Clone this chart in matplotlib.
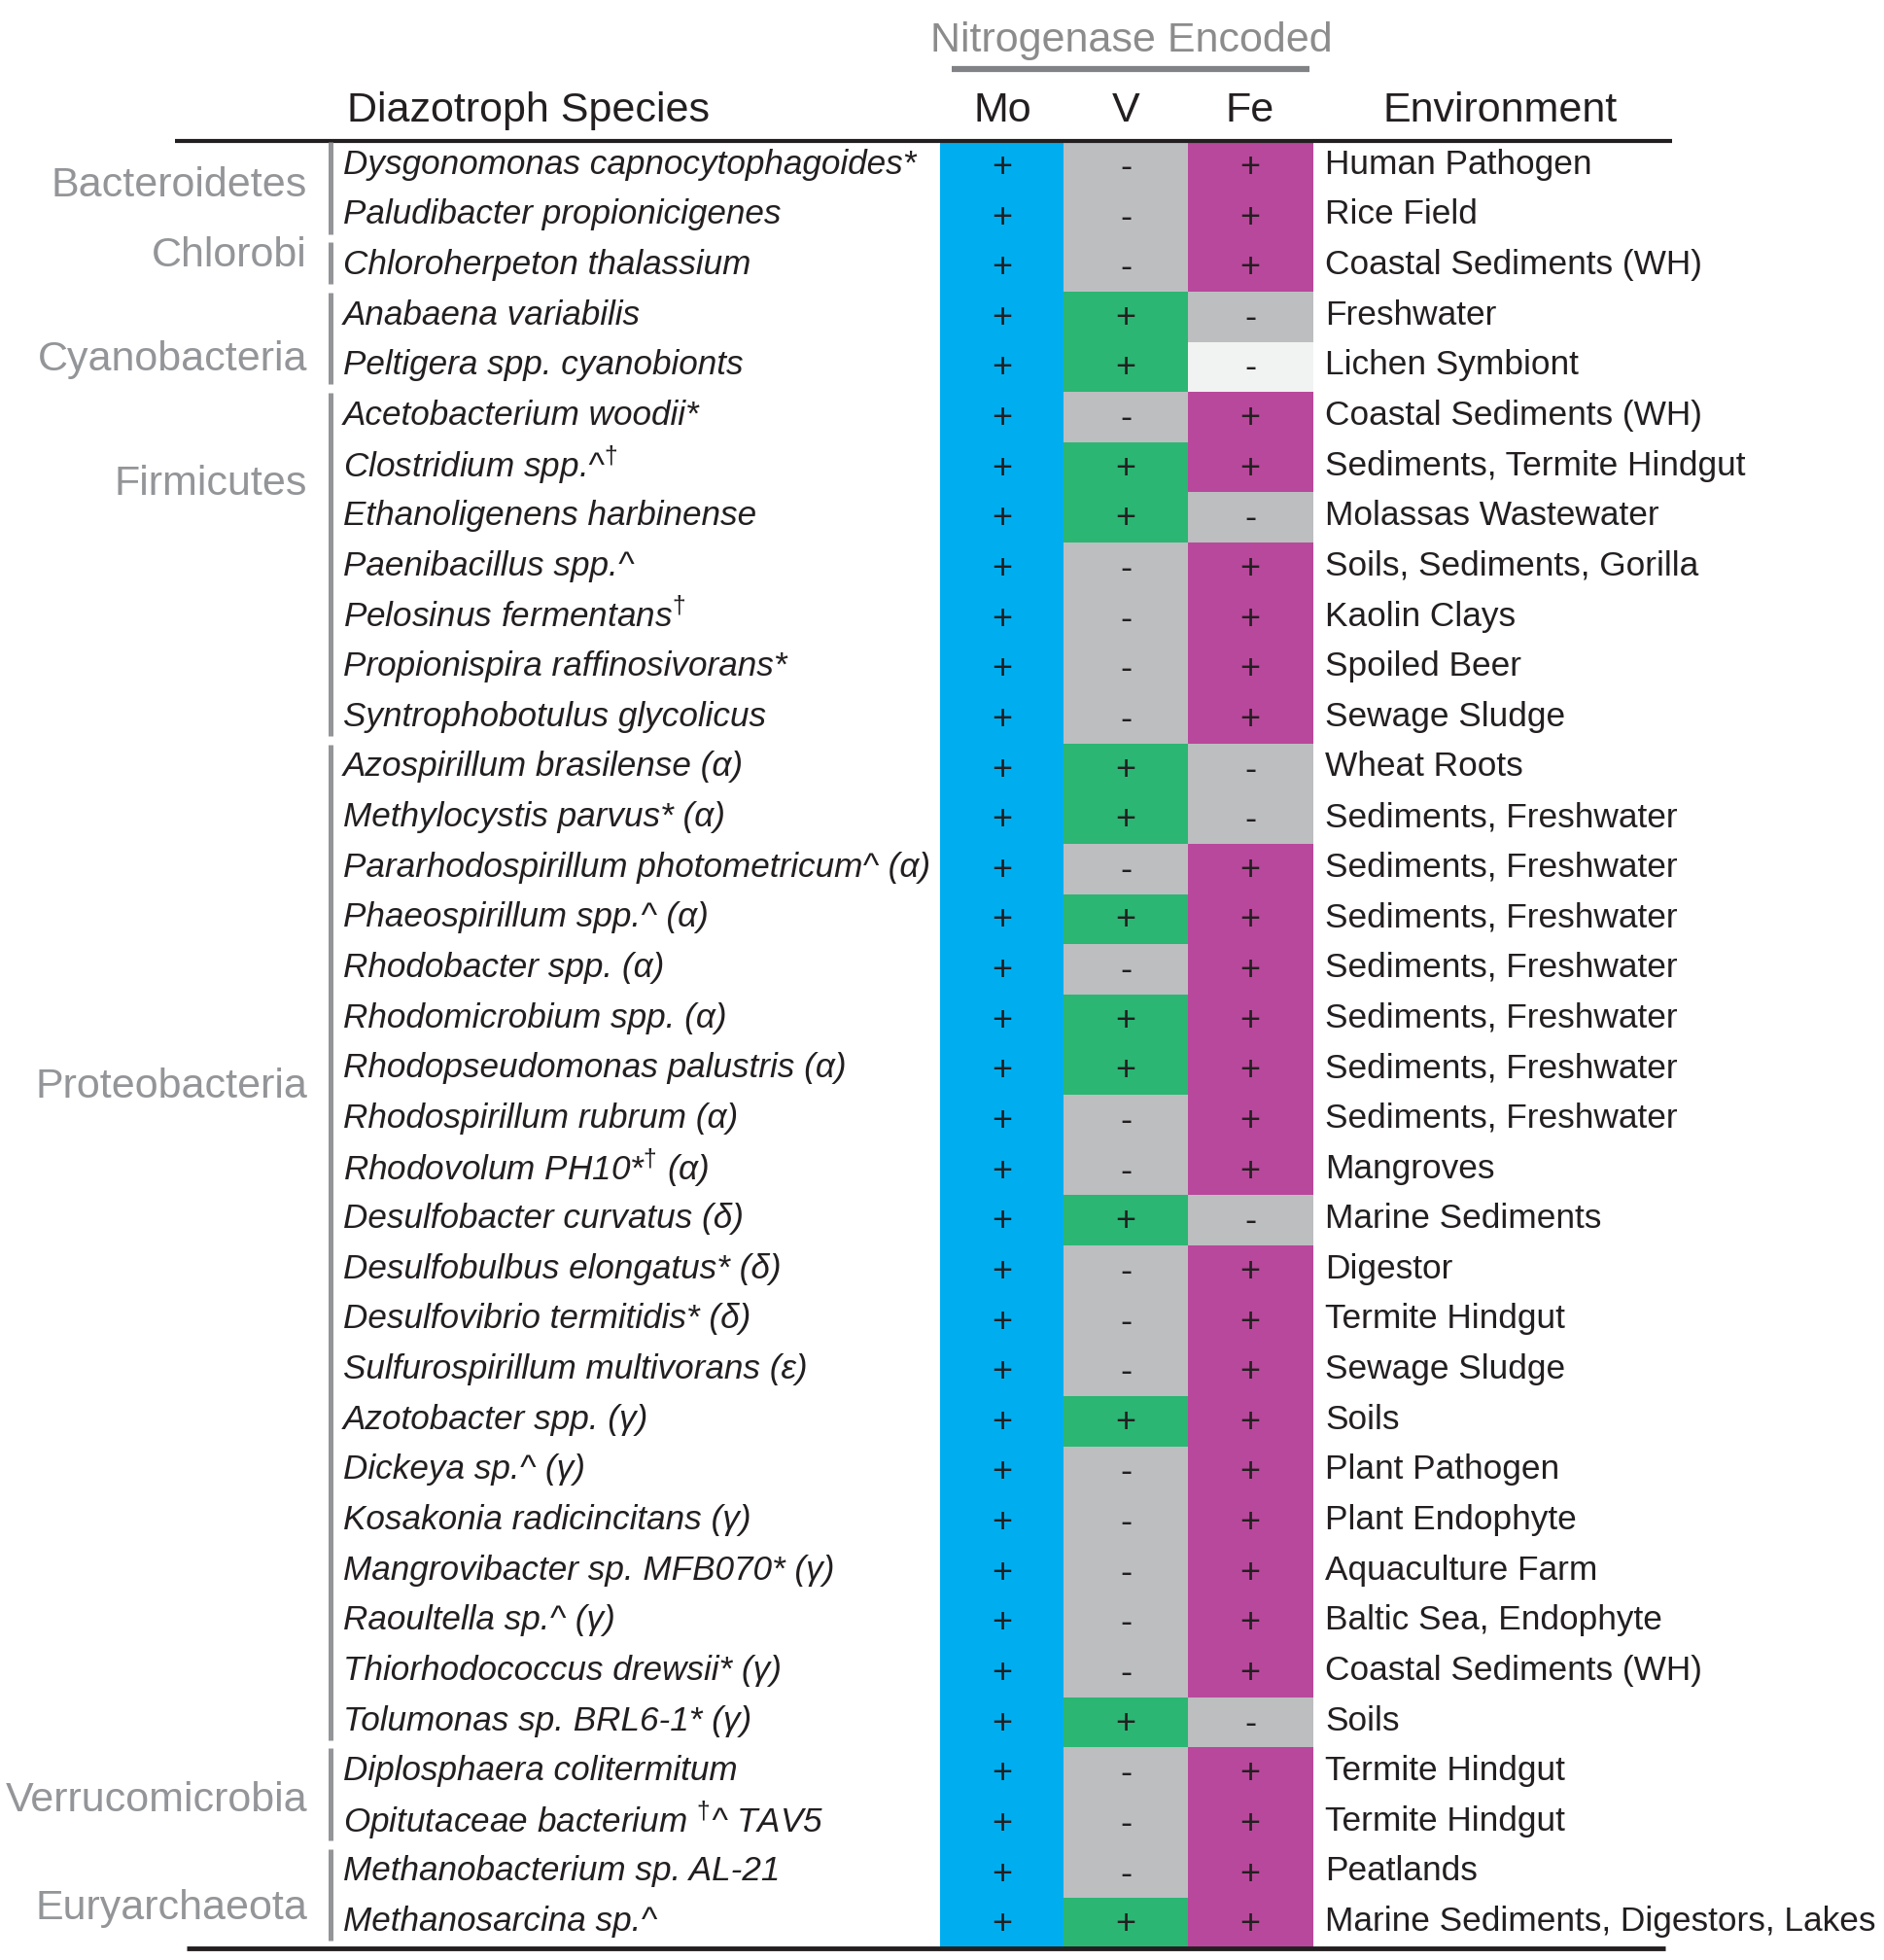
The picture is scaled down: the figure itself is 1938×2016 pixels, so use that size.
import matplotlib
matplotlib.use("Agg")
import matplotlib.pyplot as plt

plt.rcParams['font.family'] = ['Liberation Sans', 'DejaVu Sans']
plt.rcParams['mathtext.fontset'] = 'custom'
plt.rcParams['mathtext.rm'] = 'Liberation Sans'
plt.rcParams['mathtext.it'] = 'Liberation Sans:italic'

# ---- data ----
species = [
    "Dysgonomonas capnocytophagoides*",
    "Paludibacter propionicigenes",
    "Chloroherpeton thalassium",
    "Anabaena variabilis",
    "Peltigera spp. cyanobionts",
    "Acetobacterium woodii*",
    "Clostridium spp.^$^{\u2020}$",
    "Ethanoligenens harbinense",
    "Paenibacillus spp.^",
    "Pelosinus fermentans$^{\u2020}$",
    "Propionispira raffinosivorans*",
    "Syntrophobotulus glycolicus",
    "Azospirillum brasilense (\u03b1)",
    "Methylocystis parvus* (\u03b1)",
    "Pararhodospirillum photometricum^ (\u03b1)",
    "Phaeospirillum spp.^ (\u03b1)",
    "Rhodobacter spp. (\u03b1)",
    "Rhodomicrobium spp. (\u03b1)",
    "Rhodopseudomonas palustris (\u03b1)",
    "Rhodospirillum rubrum (\u03b1)",
    "Rhodovolum PH10*$^{\u2020}$ (\u03b1)",
    "Desulfobacter curvatus (\u03b4)",
    "Desulfobulbus elongatus* (\u03b4)",
    "Desulfovibrio termitidis* (\u03b4)",
    "Sulfurospirillum multivorans (\u03b5)",
    "Azotobacter spp. (\u03b3)",
    "Dickeya sp.^ (\u03b3)",
    "Kosakonia radicincitans (\u03b3)",
    "Mangrovibacter sp. MFB070* (\u03b3)",
    "Raoultella sp.^ (\u03b3)",
    "Thiorhodococcus drewsii* (\u03b3)",
    "Tolumonas sp. BRL6-1* (\u03b3)",
    "Diplosphaera colitermitum",
    "Opitutaceae bacterium $^{\u2020}$^ TAV5",
    "Methanobacterium sp. AL-21",
    "Methanosarcina sp.^",
]

environment = [
    "Human Pathogen", "Rice Field", "Coastal Sediments (WH)", "Freshwater",
    "Lichen Symbiont", "Coastal Sediments (WH)", "Sediments, Termite Hindgut",
    "Molassas Wastewater", "Soils, Sediments, Gorilla", "Kaolin Clays",
    "Spoiled Beer", "Sewage Sludge", "Wheat Roots", "Sediments, Freshwater",
    "Sediments, Freshwater", "Sediments, Freshwater", "Sediments, Freshwater",
    "Sediments, Freshwater", "Sediments, Freshwater", "Sediments, Freshwater",
    "Mangroves", "Marine Sediments", "Digestor", "Termite Hindgut",
    "Sewage Sludge", "Soils", "Plant Pathogen", "Plant Endophyte",
    "Aquaculture Farm", "Baltic Sea, Endophyte", "Coastal Sediments (WH)",
    "Soils", "Termite Hindgut", "Termite Hindgut", "Peatlands",
    "Marine Sediments, Digestors, Lakes",
]

mo = ["+"] * 36
v = ["-", "-", "-", "+", "+", "-", "+", "+", "-", "-", "-", "-",
     "+", "+", "-", "+", "-", "+", "+", "-", "-", "+", "-", "-",
     "-", "+", "-", "-", "-", "-", "-", "+", "-", "-", "-", "+"]
fe = ["+", "+", "+", "-", "-", "+", "+", "-", "+", "+", "+", "+",
      "-", "-", "+", "+", "+", "+", "+", "+", "+", "-", "+", "+",
      "+", "+", "+", "+", "+", "+", "+", "-", "+", "+", "+", "+"]
fe_light = [4]   # Peltigera: shaded lighter

groups = ["Bacteroidetes", "Chlorobi", "Cyanobacteria", "Firmicutes",
          "Proteobacteria", "Verrucomicrobia", "Euryarchaeota"]
group_first = [0, 2, 3, 5, 12, 32, 34]
group_last = [1, 2, 4, 11, 31, 33, 35]

# ---- layout (pixels of the 1938x2016 canvas) ----
W, H = 1938, 2016
TOP_PX, BOT_PX = 145, 2004
ROW_H = (BOT_PX - TOP_PX) / len(species)


def row_of(px):
    return -0.5 + (px - TOP_PX) / ROW_H


label_rows = [0.40, 1.79, 3.85, 6.33, 18.35, 32.55, 34.70]
col_left = {"Mo": 967, "V": 1094, "Fe": 1222}
COL_W = 128

BLUE = "#00AEEF"
GREEN = "#2BB673"
GREY = "#BCBEC0"
MAGENTA = "#B8489B"
LIGHT = "#F1F2F2"
GROUP_GREY = "#939598"
TXT = "#231F20"

fig = plt.figure(figsize=(W / 100, H / 100), dpi=100)
ax = fig.add_axes([0, 0, 1, 1])
ax.set_xlim(0, W)
ax.set_ylim(row_of(H), row_of(0))
ax.axis("off")

rows = list(range(len(species)))

mo_c = [BLUE for s in mo]
v_c = [GREEN if s == "+" else GREY for s in v]
fe_c = [MAGENTA if s == "+" else GREY for s in fe]
for i in fe_light:
    fe_c[i] = LIGHT

for name, states, colors in [("Mo", mo, mo_c), ("V", v, v_c), ("Fe", fe, fe_c)]:
    x0 = col_left[name]
    ax.barh(rows, COL_W, left=x0, height=1.0, color=colors,
            edgecolor=colors, linewidth=0.6, antialiased=False)
    for r, s in zip(rows, states):
        ax.text(x0 + COL_W / 2, r + 0.03, s, ha="center", va="center",
                fontsize=26, color=TXT)
    ax.text(x0 + COL_W / 2, row_of(114), name, ha="center", va="center",
            fontsize=31, color=TXT)

# species and environment text
for r, sp, env in zip(rows, species, environment):
    ax.text(353, r - 0.03, sp, ha="left", va="center", fontsize=25.3,
            style="italic", color=TXT)
    ax.text(1363, r - 0.03, env, ha="left", va="center", fontsize=25.4,
            color=TXT)

# headers
ax.text(357, row_of(114), "Diazotroph Species", ha="left", va="center",
        fontsize=31, color=TXT)
ax.text(1543, row_of(114), "Environment", ha="center", va="center",
        fontsize=31, color=TXT)
ax.text(1164, row_of(42), "Nitrogenase Encoded", ha="center", va="center",
        fontsize=31, color="#8C8C8C")
ax.plot([979, 1347], [row_of(71), row_of(71)], color="#808285", lw=4.5,
        solid_capstyle="butt")

# table rules
ax.plot([180, 1720], [-0.5, -0.5], color=TXT, lw=3, solid_capstyle="butt")
ax.plot([192, 1713], [35.5, 35.5], color=TXT, lw=3.5, solid_capstyle="butt")

# phylum brackets and labels
for g, a, b, lr in zip(groups, group_first, group_last, label_rows):
    ax.plot([340, 340], [a - 0.48, b + 0.35], color=GROUP_GREY, lw=3.6,
            solid_capstyle="butt")
    ax.text(316, lr, g, ha="right", va="center", fontsize=31,
            color=GROUP_GREY)

fig.savefig("out.png", dpi=100)
